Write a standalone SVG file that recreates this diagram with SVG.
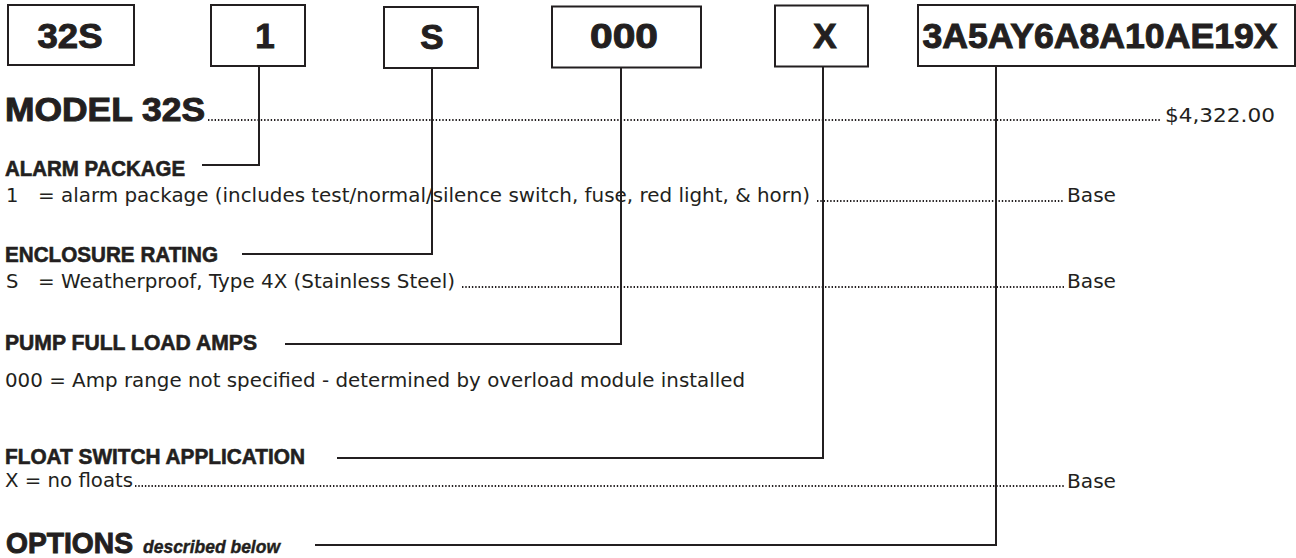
<svg xmlns="http://www.w3.org/2000/svg" width="1296" height="558" viewBox="0 0 1296 558">
<style>
text{fill:#231f20}
.box rect{fill:#fff;stroke:#231f20;stroke-width:2}
.lbl{font-family:"Liberation Sans",Arial,sans-serif;font-weight:bold;font-size:35px;text-anchor:middle;stroke:#231f20;stroke-width:1}
.hd{font-family:"Liberation Sans",Arial,sans-serif;font-weight:bold;font-size:21.5px;stroke:#231f20;stroke-width:0.6}
.big{font-family:"Liberation Sans",Arial,sans-serif;font-weight:bold;font-size:34px;stroke:#231f20;stroke-width:1}
.rg{font-family:"DejaVu Sans","Liberation Sans",sans-serif;font-size:19.5px}
.it{font-family:"Liberation Sans",Arial,sans-serif;font-weight:bold;font-style:italic;font-size:18px;stroke:#231f20;stroke-width:0.4}
.dots{stroke:#231f20;stroke-width:1.8;stroke-dasharray:1.4 1.9;fill:none}
#connectors path{fill:none;stroke:#231f20;stroke-width:2}
</style>
<rect width="1296" height="558" fill="#fff"/>
<g id="connectors">
<path d="M259,66 V165 H202"/>
<path d="M432,68 V254 H242"/>
<path d="M621,68 V344 H285"/>
<path d="M823,67 V458 H337"/>
<path d="M996,66 V545 H315"/>
</g>
<g id="box-32S" class="box"><rect x="8" y="5" width="126" height="60"/><text class="lbl" x="70" y="48" textLength="65" lengthAdjust="spacingAndGlyphs">32S</text></g>
<g id="box-1" class="box"><rect x="211" y="5" width="94" height="61"/><text class="lbl" x="265" y="48">1</text></g>
<g id="box-S" class="box"><rect x="384" y="7" width="94" height="61"/><text class="lbl" x="432" y="49">S</text></g>
<g id="box-000" class="box"><rect x="552" y="6.5" width="149" height="61"/><text class="lbl" x="624" y="48" textLength="68" lengthAdjust="spacingAndGlyphs">000</text></g>
<g id="box-X" class="box"><rect x="775" y="5.5" width="93" height="61"/><text class="lbl" x="825" y="48">X</text></g>
<g id="box-options" class="box"><rect x="918" y="5" width="377" height="61"/><text class="lbl" x="1100" y="48" textLength="355" lengthAdjust="spacingAndGlyphs">3A5AY6A8A10AE19X</text></g>
<g id="model">
<text class="big" x="5" y="121" textLength="200" lengthAdjust="spacingAndGlyphs">MODEL 32S</text>
<line class="dots" x1="208" y1="120" x2="1160" y2="120"/>
<text class="rg" x="1165" y="122" textLength="110" lengthAdjust="spacingAndGlyphs">$4,322.00</text>
</g>
<g id="alarm">
<text class="hd" x="5" y="176" textLength="180" lengthAdjust="spacingAndGlyphs">ALARM PACKAGE</text>
<text class="rg" x="6" y="202">1</text>
<text class="rg" x="38" y="202" textLength="772" lengthAdjust="spacingAndGlyphs">= alarm package (includes test/normal/silence switch, fuse, red light, &amp; horn)</text>
<line class="dots" x1="817" y1="201" x2="1064" y2="201"/>
<text class="rg" x="1067" y="202" textLength="49" lengthAdjust="spacingAndGlyphs">Base</text>
</g>
<g id="enclosure">
<text class="hd" x="5" y="262" textLength="213" lengthAdjust="spacingAndGlyphs">ENCLOSURE RATING</text>
<text class="rg" x="6" y="288">S</text>
<text class="rg" x="38" y="288" textLength="417" lengthAdjust="spacingAndGlyphs">= Weatherproof, Type 4X (Stainless Steel)</text>
<line class="dots" x1="462" y1="287" x2="1064" y2="287"/>
<text class="rg" x="1067" y="288" textLength="49" lengthAdjust="spacingAndGlyphs">Base</text>
</g>
<g id="amps">
<text class="hd" x="5" y="350" textLength="252" lengthAdjust="spacingAndGlyphs">PUMP FULL LOAD AMPS</text>
<text class="rg" x="5" y="387" textLength="740" lengthAdjust="spacingAndGlyphs">000 = Amp range not specified - determined by overload module installed</text>
</g>
<g id="float">
<text class="hd" x="5" y="464" textLength="300" lengthAdjust="spacingAndGlyphs">FLOAT SWITCH APPLICATION</text>
<text class="rg" x="5" y="487" textLength="128" lengthAdjust="spacingAndGlyphs">X = no floats</text>
<line class="dots" x1="135" y1="486" x2="1064" y2="486"/>
<text class="rg" x="1067" y="488" textLength="49" lengthAdjust="spacingAndGlyphs">Base</text>
</g>
<g id="options">
<text class="big" x="6" y="553" style="font-size:30px" textLength="127" lengthAdjust="spacingAndGlyphs">OPTIONS</text>
<text class="it" x="143" y="553" textLength="137" lengthAdjust="spacingAndGlyphs">described below</text>
</g>
</svg>
